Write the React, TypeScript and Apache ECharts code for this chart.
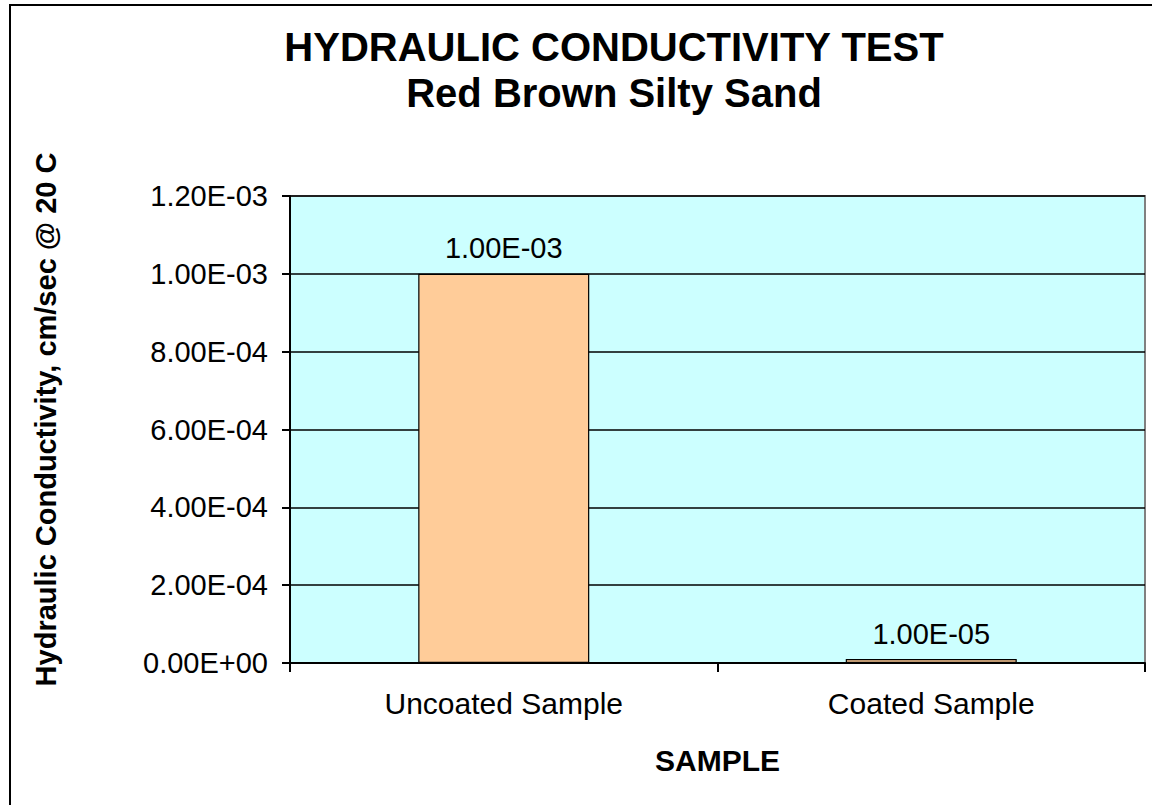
import React, { useEffect, useRef } from "react";
import * as echarts from "echarts";

const categories = ["Uncoated Sample", "Coated Sample"];
const conductivity = [1.0e-3, 1.0e-5];
const yMin = 0;
const yMax = 1.2e-3;
const yStep = 2.0e-4;
const titleLines = ["HYDRAULIC CONDUCTIVITY TEST", "Red Brown Silty Sand"];
const xTitle = "SAMPLE";
const yTitle = "Hydraulic Conductivity, cm/sec @ 20 C";

const FONT = "'Liberation Sans', Arial, sans-serif";

function fmtExp(v: number): string {
  const [m, e] = v.toExponential(2).split("e");
  const n = parseInt(e, 10);
  return m + "E" + (n < 0 ? "-" : "+") + String(Math.abs(n)).padStart(2, "0");
}

export default function App() {
  const ref = useRef<HTMLDivElement>(null);
  useEffect(() => {
    if (!ref.current) return;
    const chart = echarts.init(ref.current, undefined, { renderer: "svg" });
    chart.setOption({
      animation: false,
      backgroundColor: "#ffffff",
      textStyle: { fontFamily: FONT },
      title: {
        text: titleLines.join("\n"),
        left: 609,
        top: 19,
        textAlign: "center",
        textStyle: {
          fontFamily: FONT,
          fontSize: 40,
          fontWeight: "bold",
          color: "#000",
          lineHeight: 46,
        },
      },
      graphic: [
        {
          type: "rect",
          z: -1,
          silent: true,
          shape: { x: 10, y: 5, width: 1300, height: 1000 },
          style: { fill: "transparent", stroke: "#000", lineWidth: 2 },
        },
      ],
      grid: {
        left: 290,
        top: 196,
        right: 7,
        bottom: 142,
        show: true,
        backgroundColor: "#ccffff",
        borderColor: "#808080",
        borderWidth: 2,
      },
      xAxis: {
        type: "category",
        data: categories,
        name: xTitle,
        nameLocation: "middle",
        nameGap: 82,
        nameTextStyle: {
          fontFamily: FONT,
          fontSize: 30,
          fontWeight: "bold",
          color: "#000",
        },
        axisLine: { show: true, lineStyle: { color: "#000", width: 2 } },
        axisTick: {
          show: true,
          alignWithLabel: false,
          length: 9,
          lineStyle: { color: "#000", width: 2 },
        },
        axisLabel: {
          margin: 25,
          fontFamily: FONT,
          fontSize: 30,
          color: "#000",
        },
        splitLine: { show: false },
      },
      yAxis: {
        type: "value",
        min: yMin,
        max: yMax,
        interval: yStep,
        name: yTitle,
        nameLocation: "middle",
        nameGap: 230,
        nameTextStyle: {
          fontFamily: FONT,
          fontSize: 29,
          fontWeight: "bold",
          color: "#000",
          padding: [0, 0, 0, 20],
        },
        axisLine: { show: true, lineStyle: { color: "#000", width: 2 } },
        axisTick: { show: true, length: 8, lineStyle: { color: "#000", width: 2 } },
        axisLabel: {
          margin: 22,
          fontFamily: FONT,
          fontSize: 29,
          color: "#000",
          formatter: (v: number) => fmtExp(v),
        },
        splitLine: { show: true, lineStyle: { color: "#000", width: 1.5 } },
      },
      series: [
        {
          type: "bar",
          data: conductivity,
          barWidth: "40%",
          itemStyle: { color: "#ffcc99", borderColor: "#000", borderWidth: 1.2 },
          label: {
            show: true,
            position: "top",
            distance: 11,
            fontFamily: FONT,
            fontSize: 29,
            color: "#000",
            formatter: (p: any) => fmtExp(p.value),
          },
        },
      ],
    });
    return () => chart.dispose();
  }, []);
  return (
    <div
      ref={ref}
      style={{ position: "absolute", left: 0, top: 0, width: 1152, height: 805 }}
    />
  );
}
